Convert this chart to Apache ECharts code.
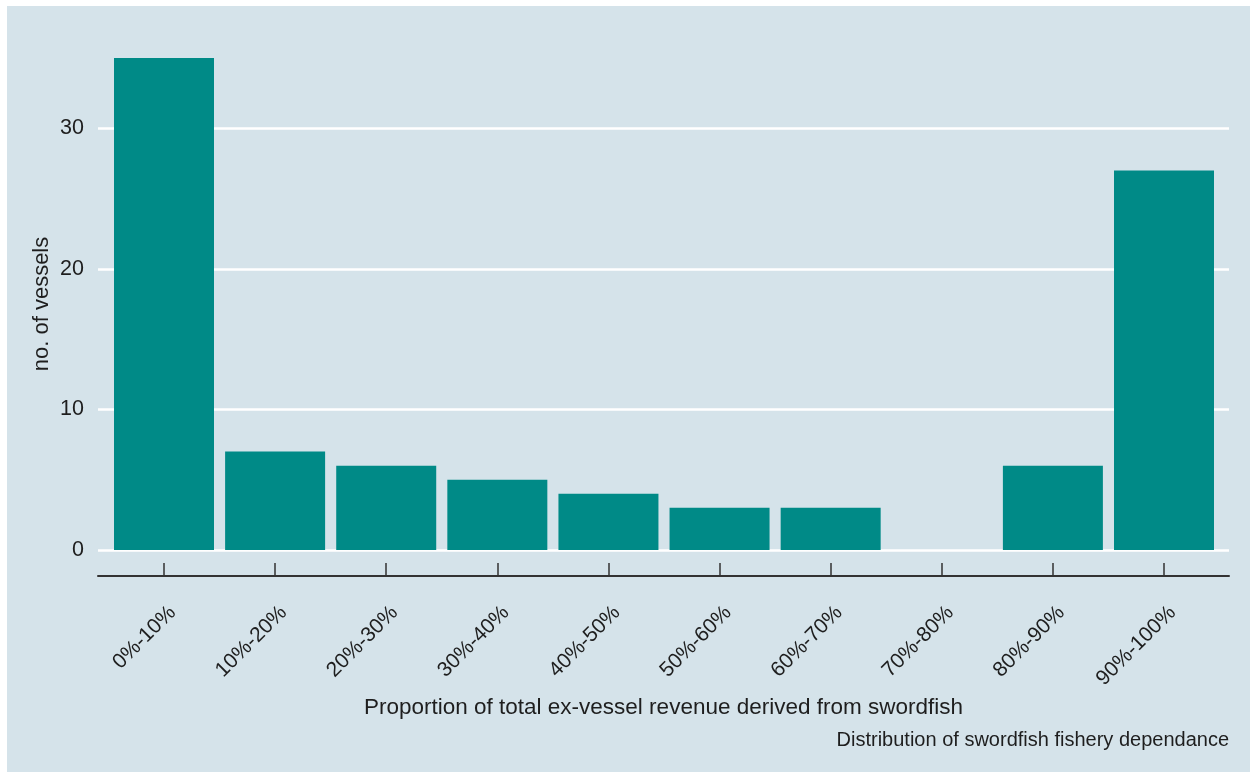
<!DOCTYPE html>
<html>
<head>
<meta charset="utf-8">
<script src="https://cdn.jsdelivr.net/npm/echarts@6/dist/echarts.min.js"></script>
<style>
  html, body { margin: 0; padding: 0; background: #ffffff; }
  #chart { width: 1250px; height: 772px; }
</style>
</head>
<body>
<div id="chart"></div>
<script>
var categories = ['0%-10%', '10%-20%', '20%-30%', '30%-40%', '40%-50%',
                  '50%-60%', '60%-70%', '70%-80%', '80%-90%', '90%-100%'];
var vessels = [35, 7, 6, 5, 4, 3, 3, 0, 6, 27];
var yTicks = [0, 10, 20, 30];

var dom = document.getElementById('chart');
var chart = echarts.init(dom, null, { renderer: 'canvas' });

var font = 'Liberation Sans, Arial, sans-serif';
var textColor = '#1e1e1e';
var positions = categories.map(function (c, i) { return i; });

var option = {
  backgroundColor: '#ffffff',
  animation: false,
  graphic: [{
    type: 'rect',
    left: 7, top: 6,
    shape: { width: 1243, height: 766 },
    style: { fill: '#d5e3ea' },
    z: -10
  }],
  grid: { left: 98, right: 21, top: 58, bottom: 222 },
  xAxis: {
    type: 'value',
    min: -0.594,
    max: 9.585,
    offset: 26,
    name: 'Proportion of total ex-vessel revenue derived from swordfish',
    nameLocation: 'middle',
    nameGap: 118,
    nameTextStyle: { fontFamily: font, fontSize: 22.5, color: textColor },
    axisLine: { show: true, onZero: false, lineStyle: { color: '#333333', width: 2 } },
    axisTick: {
      show: true, inside: true, length: 13,
      customValues: positions,
      lineStyle: { color: '#333333', width: 1.5 }
    },
    axisLabel: {
      customValues: positions,
      rotate: 45,
      margin: 42,
      padding: [0, -12, 0, 0],
      fontFamily: font, fontSize: 21, color: textColor,
      formatter: function (v) { return categories[Math.round(v)]; }
    },
    splitLine: { show: false }
  },
  yAxis: {
    type: 'value',
    min: 0,
    max: 35,
    name: 'no. of vessels',
    nameLocation: 'middle',
    nameGap: 45,
    nameMoveOverlap: false,
    nameTextStyle: { fontFamily: font, fontSize: 22, color: textColor },
    axisLine: { show: false },
    axisTick: { show: false, customValues: yTicks },
    axisLabel: {
      customValues: yTicks,
      margin: 14,
      fontFamily: font, fontSize: 21.5, color: textColor
    },
    splitLine: { show: true, lineStyle: { color: '#ffffff', width: 2.5 } }
  },
  title: {
    text: 'Distribution of swordfish fishery dependance',
    right: 21, bottom: 22,
    padding: 0,
    textStyle: { fontFamily: font, fontSize: 20, fontWeight: 'normal', color: textColor }
  },
  series: [{
    type: 'bar',
    barWidth: 100,
    data: vessels.map(function (v, i) { return [i, v]; }),
    itemStyle: { color: '#008a87' }
  }]
};

chart.setOption(option);
window.addEventListener('resize', chart.resize);
</script>
</body>
</html>
